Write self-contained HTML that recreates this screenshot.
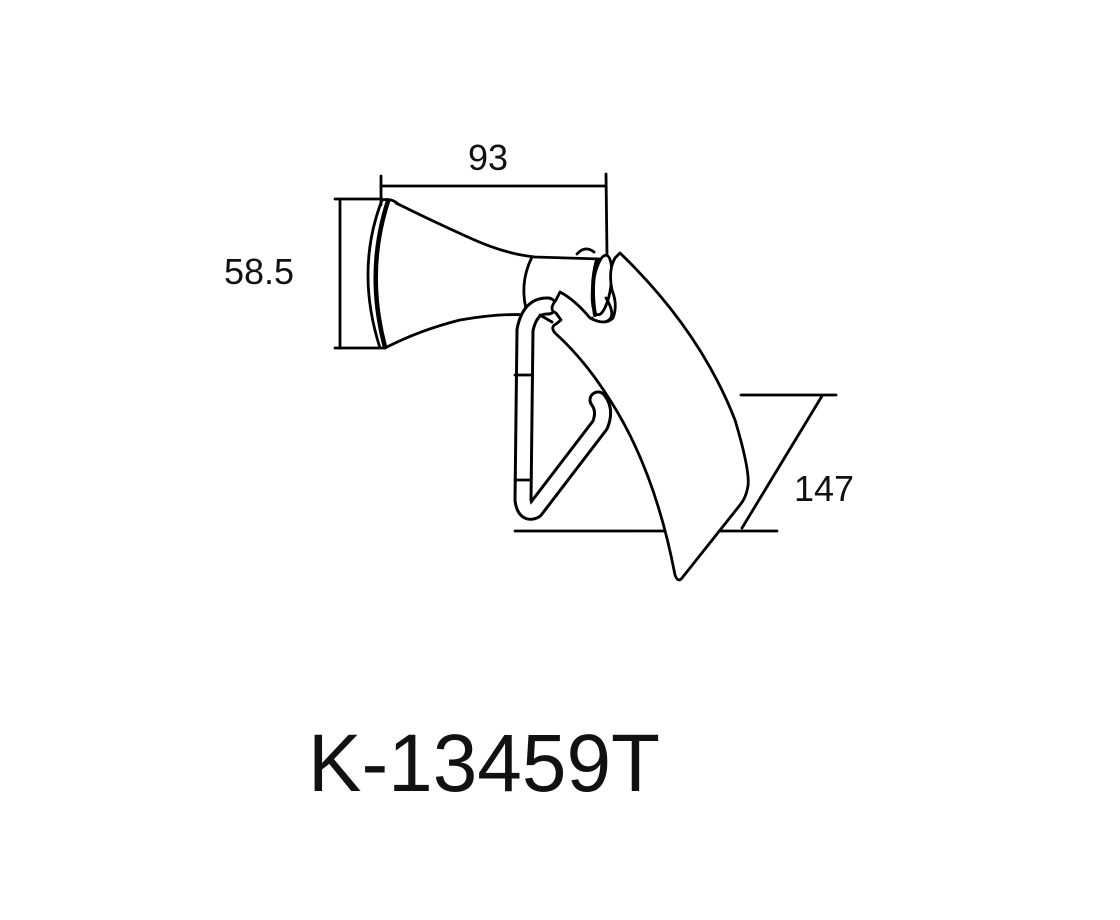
<!DOCTYPE html>
<html><head><style>
body{margin:0;background:#fff;}
svg{display:block}
text{font-family:"Liberation Sans",Arial,sans-serif;fill:#111}
</style></head><body>
<svg width="1120" height="920" viewBox="0 0 1120 920" xmlns="http://www.w3.org/2000/svg">
<g fill="none" stroke="#000" stroke-width="2.8" stroke-linecap="round" stroke-linejoin="round">
<line x1="381" y1="176" x2="381" y2="205"/>
<line x1="606" y1="174" x2="607" y2="255"/>
<line x1="381" y1="186" x2="606" y2="186"/>
<line x1="335" y1="199" x2="382" y2="199"/>
<line x1="335" y1="348" x2="385" y2="348"/>
<line x1="340" y1="199" x2="340" y2="348"/>
<line x1="741" y1="395" x2="836" y2="395"/>
<line x1="822" y1="396" x2="742" y2="528"/>
<line x1="515" y1="531" x2="777" y2="531"/>
<path d="M382 200 Q355 270 380 348"/>
<path d="M388 201 Q365 272 385 347" stroke-width="4.5"/>
<path d="M382 200 Q392 198 398 204"/>
<path d="M396 203 Q430 220 470 238 Q505 254 535 257 L600 259"/>
<path d="M385 348 Q420 330 460 320 Q500 313 528 315"/>
<path d="M532 257 Q518 285 528 316"/>
<path d="M577 254 Q585 245 594 252"/>
<ellipse cx="602" cy="285" rx="9" ry="30" transform="rotate(8 602 285)"/>
<path d="M597 260 Q590 285 595 315" stroke-width="4"/>
<path d="M606 298 Q618 318 605 322 Q595 323 592 318"/>
<path d="M548 306 Q530 305 525 330 L523 500 Q525 515 535 510 L600 425 Q606 410 598 400" stroke="#000" stroke-width="19"/>
<path d="M548 306 Q530 305 525 330 L523 500 Q525 515 535 510 L600 425 Q606 410 598 400" stroke="#fff" stroke-width="13"/>
<line x1="515" y1="375" x2="531" y2="375"/>
<line x1="515" y1="480" x2="531" y2="480"/>
<line x1="540" y1="315" x2="552" y2="322"/>
<path d="M620 253 Q700 330 735 420 Q750 470 748 486 Q746 498 740 505 L682 578 Q678 583 675 575 Q655 470 610 400 Q585 360 555 333 Q550 327 556 324 L561 320 L556 313 Q548 310 556 300 L560 292 Q575 300 590 318 Q605 326 613 318 Q618 305 612 290 Q608 270 615 258 Z" fill="#fff"/>
</g>
<text x="488" y="170" font-size="36" text-anchor="middle">93</text>
<text x="224" y="284" font-size="36">58.5</text>
<text x="794" y="501" font-size="36">147</text>
<text x="308" y="791" font-size="82" textLength="352" lengthAdjust="spacingAndGlyphs">K-13459T</text>
</svg>
</body></html>
